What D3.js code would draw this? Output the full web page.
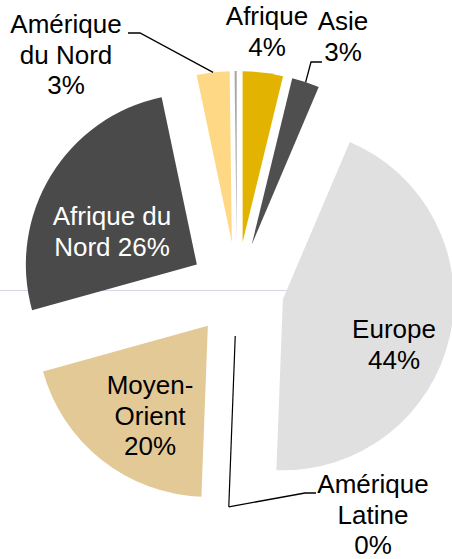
<!DOCTYPE html>
<html>
<head>
<meta charset="utf-8">
<script src="https://cdn.jsdelivr.net/npm/d3@7"></script>
<style>
  body { margin: 0; background: #fff; }
  svg { display: block; }
  text { font-family: "Liberation Sans", Arial, sans-serif; font-size: 26px; }
</style>
</head>
<body>
<svg width="452" height="559"></svg>
<script>
// regions, clockwise from 12 o'clock
const regions = ["Afrique", "Asie", "Europe", "Amérique Latine", "Moyen-Orient", "Afrique du Nord", "Amérique du Nord", "Autres"];
const shares  = [3.8, 2.6, 44.2, 0, 20.1, 26.0, 3.1, 0.2];
const colors  = ["#E2B300", "#4F4F4F", "#E0E0E0", "#000000", "#E3C996", "#4A4A4A", "#FFD886", "#A6A6A6"];

// label lines (last line gets the percent)
const labelLines = [
  ["Afrique"], ["Asie"], ["Europe"], ["Amérique", "Latine"],
  ["Moyen-", "Orient"], ["Afrique du", "Nord"], ["Amérique", "du Nord"], null
];

const W = 452, H = 559;
const cx = 237, cy = 289, R = 171, explode = 47;
const lineH = 30.5;

const svg = d3.select("svg");

// faint horizontal rule behind the pie
svg.append("line")
  .attr("x1", 0).attr("x2", W)
  .attr("y1", 290.5).attr("y2", 290.5)
  .attr("stroke", "#D3D6E6")
  .attr("stroke-width", 1);

const pie = d3.pie().sort(null).value(d => d);
const arcs = pie(shares);
const arc = d3.arc().innerRadius(0).outerRadius(R);

const mid = a => (a.startAngle + a.endAngle) / 2;
const polar = (ang, r) => [Math.sin(ang) * r, -Math.cos(ang) * r];

const g = svg.append("g").attr("transform", `translate(${cx},${cy})`);

const slices = g.selectAll("g.slice")
  .data(arcs)
  .join("g")
  .attr("class", "slice")
  .attr("transform", d => {
    const [dx, dy] = polar(mid(d), explode);
    return `translate(${dx},${dy})`;
  });

slices.filter(d => d.value > 0)
  .append("path")
  .attr("d", arc)
  .attr("fill", (d, i) => colors[d.index]);

// zero slice drawn as a single radius
slices.filter(d => d.value === 0)
  .append("line")
  .attr("x1", 0).attr("y1", 0)
  .attr("x2", d => polar(d.startAngle, R)[0])
  .attr("y2", d => polar(d.startAngle, R)[1])
  .attr("stroke", "#000")
  .attr("stroke-width", 1.2);

// label placement (page coords of text centre, first baseline)
const labelPos = {
  "Afrique":          { x: 267, y: 25, fill: "#000" },
  "Asie":             { x: 343, y: 30, fill: "#000", leader: [[322, 62], [311, 62]] },
  "Europe":           { x: 394, y: 338, fill: "#000" },
  "Amérique Latine":  { x: 373, y: 493, fill: "#000", leader: [[316, 493], [305, 493]] },
  "Moyen-Orient":     { x: 150, y: 394, fill: "#000" },
  "Afrique du Nord":  { x: 112, y: 225, fill: "#fff" },
  "Amérique du Nord": { x: 66,  y: 33, fill: "#000", leader: [[128, 33], [140, 33]] }
};

arcs.forEach(d => {
  const name = regions[d.index];
  const pos = labelPos[name];
  if (!pos) return;
  const lines = labelLines[d.index].slice();
  const pct = Math.round(d.value) + "%";
  // two-line labels with short text put the percent on its own line
  if (name === "Afrique du Nord") lines[lines.length - 1] += " " + pct;
  else lines.push(pct);

  const t = svg.append("text")
    .attr("text-anchor", "middle")
    .attr("fill", pos.fill);
  lines.forEach((s, k) => {
    t.append("tspan").attr("x", pos.x).attr("y", pos.y + k * lineH).text(s);
  });

  if (pos.leader) {
    const [ox, oy] = polar(mid(d), explode);
    const [ex, ey] = polar(mid(d), R);
    const pts = pos.leader.concat([[cx + ox + ex, cy + oy + ey]]);
    svg.append("path")
      .attr("d", d3.line()(pts))
      .attr("fill", "none")
      .attr("stroke", "#000")
      .attr("stroke-width", 1.3);
  }
});
</script>
</body>
</html>
